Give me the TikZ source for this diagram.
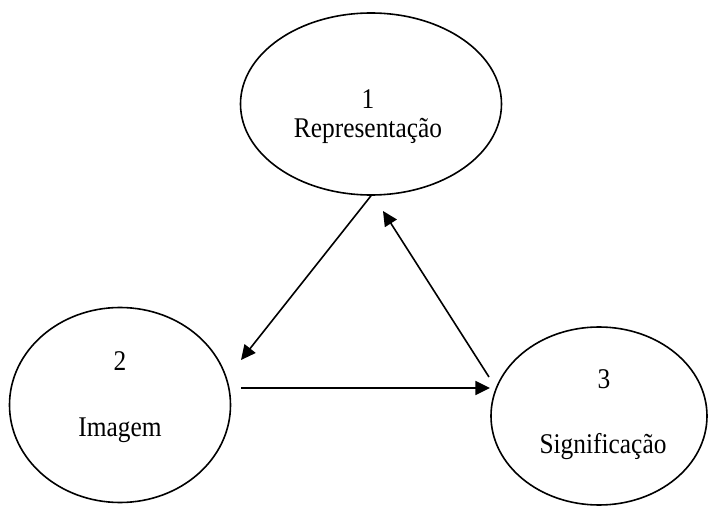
\documentclass[tikz,border=0pt]{standalone}
\usepackage{fontspec}
\setmainfont{Liberation Serif}[FakeStretch=0.89]
\usetikzlibrary{arrows.meta,shapes.geometric}
\begin{document}
\begin{tikzpicture}[x=0.75pt,y=-0.75pt,
  ell/.style={draw,line width=1.2pt,ellipse,inner sep=0pt},
  lbl/.style={font=\fontsize{21.4}{25}\selectfont,inner sep=0pt,anchor=base},
  conn/.style={line width=1.2pt,-{Triangle[length=11pt,width=10.5pt]}}]
\useasboundingbox (0,0) rectangle (708,506);
\node[ell,minimum width=261pt*0.75,minimum height=182pt*0.75] (top) at (371,104) {};
\node[ell,minimum width=221pt*0.75,minimum height=195pt*0.75] (left) at (120,405) {};
\node[ell,minimum width=216pt*0.75,minimum height=178pt*0.75] (right) at (599,416) {};
\node[lbl] (n1) at (368,109) {1};
\node[lbl] (t1) at (368,138) {Representação};
\node[lbl] (n2) at (120,371) {2};
\node[lbl] (t2) at (120,436) {Imagem};
\node[lbl] (n3) at (604,389) {3};
\node[lbl] (t3) at (603,454) {Significação};
\coordinate (a1) at (241,360);
\coordinate (b0) at (489,377);
\coordinate (b1) at (383,211);
\coordinate (c0) at (241,388);
\coordinate (c1) at (490,388);
\draw[conn] (top.south) -- (a1);
\draw[conn] (b0) -- (b1);
\draw[conn] (c0) -- (c1);
\end{tikzpicture}
\end{document}
